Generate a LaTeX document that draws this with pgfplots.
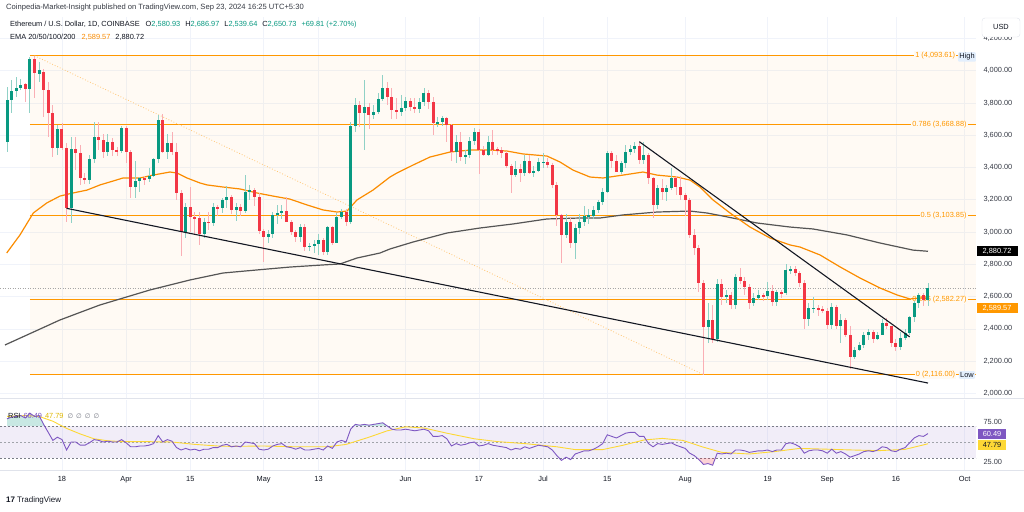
\documentclass[border=0pt]{standalone}
\usepackage{pgfplots}
\usepackage{pgfplotstable}
\pgfplotsset{compat=1.18}
\usepackage{fontspec}
\setmainfont{Liberation Sans}
\newfontfamily\djv{DejaVu Sans}
\definecolor{tvgreen}{HTML}{089981}
\definecolor{tvred}{HTML}{F23645}
\definecolor{fibc}{HTML}{FF9800}
\definecolor{fibbg}{HTML}{FFFAF3}
\definecolor{emaor}{HTML}{FB8C00}
\definecolor{emagray}{HTML}{555555}
\definecolor{rsic}{HTML}{7E57C2}
\definecolor{rsima}{HTML}{FDD835}
\definecolor{rsimatxt}{HTML}{E0B800}
\definecolor{gridc}{HTML}{F0F3FA}
\definecolor{axlab}{HTML}{363A45}
\definecolor{txt}{HTML}{131722}
\definecolor{sepc}{HTML}{E0E3EB}
\definecolor{tagbg}{HTML}{E3EFFD}
\definecolor{bandc}{HTML}{787B86}
\newcommand\fs{\fontsize{7.4}{8.5}\selectfont}

\pgfplotstableread{
d o h l c
-12 3556 3901 3498 3818
-11 3818 3942 3736 3874
-10 3874 3963 3839 3891
-9 3891 3948 3880 3911
-7 3884 4087 3736 4070
-5 3980 4056 3932 4005
-1 3519 3663 3477 3639
2 3147 3591 3054 3513
6 3322 3475 3300 3453
7 3453 3684 3430 3591
10 3498 3610 3470 3556
13 3502 3660 3490 3647
16 3281 3440 3210 3316
17 3316 3340 3250 3333
19 3328 3400 3310 3349
20 3349 3460 3340 3453
21 3453 3725 3430 3694
23 3498 3610 3450 3550
27 3002 3180 2960 3157
31 2985 3090 2960 3065
33 3055 3180 3040 3157
35 3147 3210 3120 3199
36 3199 3285 3150 3219
38 3137 3180 3070 3157
40 3130 3355 3120 3250
41 3250 3290 3200 3260
45 2971 3010 2930 2988
46 2988 3125 2960 3106
47 3106 3165 3050 3116
48 3116 3170 3080 3132
52 2971 3050 2940 3033
54 2909 2935 2880 2912
55 2912 2950 2870 2928
56 2928 2990 2860 2950
58 2878 3040 2860 3033
60 2934 3120 2930 3095
61 3095 3140 3080 3126
63 3064 3680 3050 3659
64 3659 3830 3620 3787
66 3736 3945 3510 3777
68 3725 3790 3700 3746
69 3746 3860 3730 3822
70 3822 3975 3810 3891
74 3746 3850 3720 3767
75 3767 3840 3750 3814
78 3760 3830 3740 3808
79 3808 3890 3780 3864
82 3674 3710 3650 3680
83 3680 3720 3660 3705
86 3498 3600 3430 3560
88 3463 3510 3420 3477
89 3477 3590 3460 3564
90 3564 3645 3540 3622
93 3477 3595 3470 3560
99 3353 3440 3340 3389
101 3364 3480 3350 3442
103 3364 3410 3340 3380
104 3380 3460 3370 3436
105 3430 3490 3400 3436
110 2981 3110 2960 3064
112 2930 3050 2830 3023
113 3023 3110 2990 3064
114 3064 3160 3040 3100
115 3100 3140 3050 3100
116 3100 3160 3080 3137
117 3137 3200 3120 3188
118 3188 3270 3170 3250
119 3250 3500 3240 3488
122 3374 3440 3360 3426
123 3426 3540 3400 3498
124 3498 3540 3480 3512
125 3512 3560 3490 3533
127 3446 3560 3420 3477
130 3167 3290 3140 3271
132 3250 3290 3190 3271
133 3271 3400 3260 3333
141 2414 2560 2310 2455
143 2335 2710 2320 2678
145 2599 2640 2560 2610
147 2548 2740 2520 2719
151 2562 2620 2540 2589
152 2589 2640 2580 2610
154 2603 2690 2580 2634
156 2568 2640 2540 2626
158 2620 2800 2610 2765
159 2765 2790 2740 2769
163 2459 2560 2420 2527
164 2527 2600 2500 2530
168 2424 2560 2400 2533
170 2418 2490 2310 2455
173 2223 2290 2210 2269
174 2269 2320 2260 2300
175 2300 2380 2280 2362
176 2362 2400 2330 2378
178 2337 2380 2330 2362
179 2362 2460 2360 2434
183 2290 2380 2270 2341
184 2341 2400 2330 2372
185 2372 2480 2360 2475
186 2475 2570 2440 2562
187 2562 2620 2530 2610
189 2581 2687 2540 2651
}\upc

\pgfplotstableread{
d o h l c
-8 3915 3922 3808 3884
-6 4070 4093 3829 3984
-4 3990 4010 3715 3880
-3 3880 3932 3591 3736
-2 3736 3787 3467 3519
0 3639 3674 3508 3519
1 3519 3550 3064 3147
3 3513 3591 3385 3488
4 3488 3540 3290 3333
5 3333 3365 3300 3322
8 3591 3680 3510 3570
9 3570 3610 3460 3498
11 3556 3580 3470 3508
12 3508 3530 3470 3502
14 3647 3660 3430 3498
15 3498 3510 3210 3281
18 3333 3350 3290 3328
22 3694 3730 3490 3498
24 3550 3620 3480 3498
25 3498 3550 3200 3240
26 3240 3260 2850 3002
28 3157 3280 3000 3095
29 3095 3125 2990 3085
30 3085 3125 2920 2985
32 3065 3125 3010 3055
34 3157 3165 3100 3147
37 3219 3230 3110 3137
39 3157 3175 3100 3130
42 3260 3270 3160 3219
43 3219 3240 2990 3008
44 3008 3020 2816 2971
49 3132 3220 3060 3064
50 3064 3075 2980 3002
51 3002 3010 2940 2971
53 3033 3050 2880 2909
57 2950 2960 2860 2878
59 3033 3040 2920 2934
62 3126 3140 3040 3064
65 3787 3810 3650 3736
67 3777 3800 3640 3725
71 3891 3930 3790 3839
72 3839 3890 3700 3756
73 3756 3830 3700 3746
76 3814 3830 3750 3777
77 3777 3830 3740 3760
80 3864 3880 3760 3808
81 3808 3840 3600 3674
84 3705 3710 3560 3663
85 3663 3670 3440 3498
87 3560 3620 3440 3463
91 3622 3640 3360 3508
92 3508 3535 3470 3477
94 3560 3630 3480 3508
95 3512 3530 3480 3504
96 3508 3525 3460 3488
97 3488 3500 3400 3409
98 3409 3420 3240 3353
100 3389 3420 3310 3364
102 3442 3480 3360 3364
106 3436 3460 3400 3415
107 3415 3430 3270 3291
108 3291 3310 3040 3106
109 3106 3110 2810 2981
111 3064 3090 2900 2930
120 3488 3500 3400 3442
121 3442 3480 3370 3374
126 3533 3560 3420 3446
128 3477 3490 3300 3333
129 3333 3340 3090 3167
131 3271 3330 3200 3250
134 3333 3350 3230 3277
135 3277 3350 3200 3230
136 3230 3240 3100 3199
137 3199 3210 2960 2982
138 2982 3020 2860 2899
139 2899 2920 2630 2682
140 2682 2700 2116 2414
142 2455 2550 2310 2335
144 2678 2710 2550 2599
146 2610 2630 2520 2548
148 2719 2780 2680 2698
149 2698 2720 2610 2657
150 2657 2680 2520 2562
153 2610 2620 2570 2603
155 2634 2670 2540 2568
157 2626 2640 2590 2620
160 2769 2790 2730 2744
161 2744 2760 2660 2682
162 2682 2700 2400 2459
165 2530 2545 2480 2520
166 2520 2540 2500 2513
167 2513 2530 2400 2424
169 2533 2550 2400 2418
171 2455 2470 2350 2362
172 2362 2420 2150 2223
177 2378 2390 2310 2337
180 2434 2470 2400 2418
181 2418 2420 2290 2314
182 2314 2340 2260 2290
188 2610 2620 2540 2579
}\downc

\pgfplotstableread{
d r
-12 79
-11 81
-10 82
-9 83
-8 80
-7 86
-6 82
-5 83
-4 72
-3 62
-2 52
-1 56
0 53
1 40
2 50
3 50
4 46
5 46
6 49
7 53
8 52
9 50
10 51
11 50
12 50
13 53
14 49
15 44
16 44
17 45
18 45
19 46
20 48
21 58
22 50
23 53
24 51
25 43
26 40
27 42
28 40
29 41
30 39
31 41
32 41
33 43
34 43
35 46
36 47
37 44
38 45
39 44
40 50
41 49
42 48
43 41
44 40
45 41
46 45
47 47
48 48
49 44
50 43
51 41
52 43
53 40
54 40
55 41
56 42
57 40
58 45
59 42
60 50
61 52
62 50
63 66
64 72
65 71
66 72
67 71
68 72
69 73
70 74
71 70
72 66
73 65
74 65
75 66
76 65
77 64
78 65
79 66
80 64
81 57
82 57
83 58
84 54
85 45
86 48
87 46
88 47
89 49
90 50
91 45
92 46
93 48
94 46
95 45
96 44
97 43
98 40
99 42
100 41
101 44
102 42
103 44
104 46
105 45
106 44
107 40
108 33
109 27
110 31
111 28
112 35
113 37
114 39
115 39
116 41
117 44
118 48
119 59
120 57
121 55
122 58
123 61
124 62
125 62
126 57
127 57
128 48
129 44
130 48
131 47
132 48
133 49
134 46
135 44
136 42
137 36
138 33
139 28
140 22
141 23
142 21
143 36
144 35
145 36
146 35
147 40
148 40
149 39
150 37
151 38
152 39
153 39
154 40
155 38
156 40
157 40
158 48
159 49
160 47
161 44
162 36
163 39
164 40
165 40
166 39
167 36
168 41
169 36
170 38
171 35
172 31
173 33
174 35
175 38
176 39
177 38
178 40
179 44
180 43
181 39
182 38
183 41
184 43
185 49
186 55
187 58
188 57
189 60.49
}\rsitab

\pgfplotsset{
  wick/.style={draw=none, mark=none, forget plot, error bars/.cd, y dir=both, y explicit, error mark=none, error bar style={draw=#1, line width=0.9pt}},
  body/.style={draw=none, mark=none, forget plot, error bars/.cd, y dir=both, y explicit, error mark=none, error bar style={draw=#1, line width=3pt}},
}

\begin{document}
\begin{tikzpicture}[x=1pt,y=1pt]
\useasboundingbox (0,0) rectangle (1024,511);
\fill[white] (0,0) rectangle (1024,511);

% ---------------- main price pane ----------------
\begin{axis}[
  at={(0pt,113pt)}, anchor=south west, scale only axis,
  width=976pt, height=381pt,
  xmin=-13.53, xmax=199.48, ymin=1971.3, ymax=4332.9,
  axis line style={draw=none}, tick style={draw=none},
  xtick={0,14,28,44,56,75,91,105,119,136,154,167,182,197},
  xticklabels={,,,,,,,,,,,,,},
  ytick={2000,2200,...,4200},
  yticklabel pos=right,
  yticklabel style={font=\fs, text=axlab, xshift=4pt},
  /pgf/number format/fixed, /pgf/number format/fixed zerofill,
  /pgf/number format/precision=2, /pgf/number format/1000 sep={,},
  /pgf/number format/assume math mode=true,
  scaled y ticks=false,
  grid=major, major grid style={draw=gridc, line width=0.6pt},
]
% fib background
\addplot[draw=none, fill=fibc, fill opacity=0.045, forget plot] coordinates {(-7,2116) (199.48,2116) (199.48,4093) (-7,4093)} -- cycle;
% fib levels
\addplot[fibc, line width=1pt, forget plot] coordinates {(-7,4093) (199.48,4093)};
\addplot[fibc, line width=1pt, forget plot] coordinates {(-7,3668.88) (199.48,3668.88)};
\addplot[fibc, line width=1pt, forget plot] coordinates {(-7,3103.85) (199.48,3103.85)};
\addplot[fibc, line width=1pt, forget plot] coordinates {(-7,2582.27) (199.48,2582.27)};
\addplot[fibc, line width=1pt, forget plot] coordinates {(-7,2116) (199.48,2116)};
% fib diagonal
\addplot[fibc!55, dotted, line width=0.8pt, forget plot] coordinates {(-6,4093) (140,2116)};
% fib labels
\node[anchor=east, font=\fs, text=fibc, fill=fibbg, inner sep=1pt] at (axis cs:195.2,4093) {1 (4,093.61)};
\node[anchor=east, font=\fs, text=fibc, fill=fibbg, inner sep=1pt] at (axis cs:197.7,3668.88) {0.786 (3,668.88)};
\node[anchor=east, font=\fs, text=fibc, fill=fibbg, inner sep=1pt] at (axis cs:197.7,3103.85) {0.5 (3,103.85)};
\node[anchor=east, font=\fs, text=fibc, fill=fibbg, inner sep=1pt] at (axis cs:197.7,2582.27) {0.236 (2,582.27)};
\node[anchor=east, font=\fs, text=fibc, fill=fibbg, inner sep=1pt] at (axis cs:195.2,2116) {0 (2,116.00)};
% current price line
\addplot[black!35, dotted, line width=0.5pt, forget plot] coordinates {(-13.53,2650.73) (199.48,2650.73)};
% EMA 200 (gray)
\addplot[emagray, line width=1.2pt, forget plot] coordinates {
(-12.44,2300) (-0.44,2455) (8.29,2548) (19.21,2641) (27.94,2703) (35.14,2746)
(42.56,2765) (49.76,2783) (56.96,2796) (60.67,2802) (64.38,2839) (69.40,2870)
(71.58,2895) (76.60,2938) (84.02,2994) (91.23,3025) (98.43,3050) (105.85,3081)
(113.05,3087) (117.42,3087) (122.44,3106) (129.86,3124) (137.06,3130) (140.77,3118)
(144.26,3099) (151.68,3056) (158.88,3031) (163.90,3019) (171.32,2982) (178.53,2932)
(185.73,2888) (189,2880.72)};
% EMA 50 (orange)
\addplot[emaor, line width=1.2pt, forget plot] coordinates {
(-12.07,2870) (-9.17,2982) (-6.26,3118) (-3.34,3180) (-0.44,3223) (2.40,3242)
(5.46,3260) (8.29,3292) (11.13,3316) (13.31,3335) (17.02,3335) (19.86,3353)
(23.57,3372) (25.10,3366) (27.28,3335) (30.12,3304) (31.65,3292) (35.14,3279)
(38.85,3267) (42.56,3242) (46.05,3223) (49.76,3204) (53.47,3168) (56.96,3137)
(60.02,3124) (62.20,3130) (64.38,3199) (67.87,3260) (71.58,3341) (73.11,3366)
(76.60,3415) (80.31,3465) (84.68,3496) (89.04,3508) (93.41,3508) (97.12,3502)
(100.61,3484) (105.85,3471) (108.69,3434) (111.52,3384) (115.23,3341) (118.07,3335)
(122.44,3353) (126.80,3372) (129.86,3353) (134.22,3341) (137.06,3322) (139.24,3279)
(142.08,3199) (145.79,3118) (150.15,3031) (154.52,2963) (158.88,2920) (161.07,2907)
(165.43,2858) (169.80,2784) (174.16,2715) (178.53,2653) (182.24,2610) (185.07,2585)
(187.25,2591) (189,2589.57)};
% candles: wicks
\addplot[wick=tvgreen!45] table[x=d, y expr={(\thisrow{h}+\thisrow{l})/2}, y error expr={(\thisrow{h}-\thisrow{l})/2}] {\upc};
\addplot[wick=tvred!40] table[x=d, y expr={(\thisrow{h}+\thisrow{l})/2}, y error expr={(\thisrow{h}-\thisrow{l})/2}] {\downc};
% candles: bodies
\addplot[body=tvgreen] table[x=d, y expr={(\thisrow{o}+\thisrow{c})/2}, y error expr={max(abs(\thisrow{c}-\thisrow{o})/2,3)}] {\upc};
\addplot[body=tvred] table[x=d, y expr={(\thisrow{o}+\thisrow{c})/2}, y error expr={max(abs(\thisrow{c}-\thisrow{o})/2,3)}] {\downc};
% trend lines
\addplot[txt, line width=1.1pt, forget plot] coordinates {(1,3147) (189,2064)};
\addplot[txt, line width=1.1pt, forget plot] coordinates {(126,3560) (185,2350)};
\end{axis}

% ---------------- RSI pane ----------------
\begin{axis}[
  at={(0pt,41pt)}, anchor=south west, scale only axis,
  width=976pt, height=70pt,
  xmin=-13.53, xmax=199.48, ymin=15, ymax=102.5,
  axis line style={draw=none}, tick style={draw=none},
  xtick={0,14,28,44,56,75,91,105,119,136,154,167,182,197},
  xticklabels={18,Apr,15,May,13,Jun,17,Jul,15,Aug,19,Sep,16,Oct},
  xticklabel style={font=\fs, text=txt, yshift=-3pt},
  ytick={25,75},
  yticklabel pos=right,
  yticklabel style={font=\fs, text=axlab, xshift=4pt},
  /pgf/number format/fixed, /pgf/number format/fixed zerofill,
  /pgf/number format/precision=2,
  /pgf/number format/assume math mode=true,
  xmajorgrids, major grid style={draw=gridc, line width=0.6pt},
]
\addplot[draw=none, fill=rsic, fill opacity=0.1, forget plot] coordinates {(-13.53,30) (199.48,30) (199.48,70) (-13.53,70)} -- cycle;
\addplot[bandc, dash pattern=on 2pt off 2pt, line width=0.6pt, forget plot] coordinates {(-13.53,70) (199.48,70)};
\addplot[bandc!70, dash pattern=on 2pt off 2pt, line width=0.6pt, forget plot] coordinates {(-13.53,50) (199.48,50)};
\addplot[bandc, dash pattern=on 2pt off 2pt, line width=0.6pt, forget plot] coordinates {(-13.53,30) (199.48,30)};
% overbought / oversold fills
\addplot[draw=none, fill=tvgreen, fill opacity=0.22, forget plot] coordinates {(-12,70) (-12,79) (-11,81) (-10,82) (-9,83) (-8,80) (-7,86) (-6,82) (-5,83) (-4,72) (-3.8,70)} -- cycle;
\addplot[draw=none, fill=tvgreen, fill opacity=0.22, forget plot] coordinates {(63.67,70) (64,72) (65,71) (66,72) (67,71) (68,72) (69,73) (70,74) (71,70)} -- cycle;
\addplot[draw=none, fill=tvred, fill opacity=0.22, forget plot] coordinates {(138.6,30) (139,28) (140,22) (141,23) (142,21) (142.6,30)} -- cycle;
% RSI MA
\addplot[rsima, line width=0.9pt, forget plot] coordinates {
(-12,82) (-8,83) (-5,82) (-2,76) (1,67) (4,60) (7,54) (10,51.5) (13,50.5) (18,50.5)
(24,50) (29,47) (34,45) (37,44.5) (44,45) (51,44) (58,44) (62,47) (67,56) (71,64)
(75,69) (79,67.5) (84,61) (90,54) (95,50.5) (101,48) (108,44) (112,40.5) (118,40.5)
(122.5,46) (127,52.5) (131,54.5) (135.5,52) (139.7,44) (144,37) (150,35) (155.5,38)
(161,42) (167,41) (172.6,40) (178.3,39.2) (184,40.8) (189,47.79)};
% RSI
\addplot[rsic, line width=0.9pt, forget plot] table[x=d, y=r] {\rsitab};
\end{axis}

% pane separators
\draw[sepc, line width=0.6pt] (0,112.5) -- (1024,112.5);
\draw[sepc, line width=0.6pt] (0,40.5) -- (1024,40.5);

% tags on price axis
\node[fill=black, text=white, font=\fs, inner sep=1.3pt, minimum width=41pt, minimum height=9.5pt] at (997,260) {2,880.72};
\node[fill=fibc, text=white, font=\fs, inner sep=1.3pt, minimum width=41pt, minimum height=9.5pt] at (997,203) {2,589.57};
\node[fill=rsic, text=white, font=\fs, inner sep=1.3pt, minimum width=28pt, minimum height=9.5pt] at (992,77) {60.49};
\node[fill=rsima, text=txt, font=\fs, inner sep=1.3pt, minimum width=28pt, minimum height=9.5pt] at (992,66) {47.79};
% High / Low tags
\node[fill=tagbg, text=txt, font=\fs, inner sep=1.3pt, rounded corners=1pt] at (967,454) {High};
\node[fill=tagbg, text=txt, font=\fs, inner sep=1.3pt, rounded corners=1pt] at (967,136) {Low};
% USD box
\draw[sepc, fill=white, rounded corners=3pt] (982,474) rectangle (1020,493);
\node[font=\fs, text=txt] at (1001,484) {USD};

% header texts
\node[anchor=west, font=\fontsize{7.6}{9}\selectfont, text=txt!85, inner sep=0] at (6,503) {Coinpedia-Market-Insight published on TradingView.com, Sep 23, 2024 16:25 UTC+5:30};
\node[anchor=west, font=\fs, text=txt, inner sep=0] at (10,486) {Ethereum / U.S. Dollar, 1D, COINBASE\hspace{6pt}O\textcolor{tvgreen}{2,580.93}\hspace{5pt}H\textcolor{tvgreen}{2,686.97}\hspace{5pt}L\textcolor{tvgreen}{2,539.64}\hspace{5pt}C\textcolor{tvgreen}{2,650.73}\hspace{5pt}\textcolor{tvgreen}{+69.81 (+2.70\%)}};
\node[anchor=west, font=\fs, text=txt, inner sep=0] at (10,474) {EMA 20/50/100/200\hspace{6pt}\textcolor{emaor}{2,589.57}\hspace{5pt}2,880.72};
% RSI legend
\node[anchor=west, font=\fs, text=txt, inner sep=0] at (8,95) {RSI\hspace{3pt}\textcolor{rsic}{60.49}\hspace{3pt}\textcolor{rsimatxt}{47.79}\hspace{4pt}\textcolor{bandc}{\djv\fontsize{6.5}{7}\selectfont ∅\hspace{3pt}∅\hspace{3pt}∅\hspace{3pt}∅}};
% footer
\node[anchor=west, font=\fontsize{8}{9}\selectfont, text=txt, inner sep=0] at (6,11) {\textbf{17}\hspace{2pt}TradingView};
\end{tikzpicture}
\end{document}
